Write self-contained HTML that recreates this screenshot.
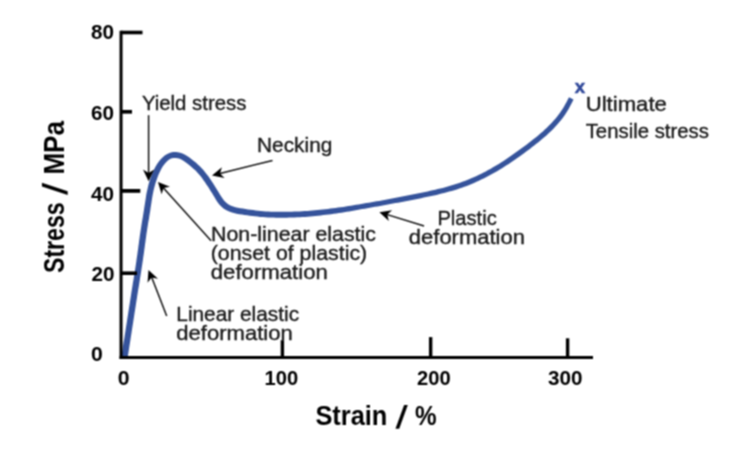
<!DOCTYPE html>
<html><head><meta charset="utf-8">
<style>
html,body{margin:0;padding:0;background:#fff;}
body{width:740px;height:463px;overflow:hidden;}
svg{display:block;}
text{font-family:"Liberation Sans",sans-serif;}
.b{font-weight:bold;fill:#000;}
.a{fill:#1a1a1a;font-size:19.9px;stroke:#1a1a1a;stroke-width:0.35;}
.ar{stroke:#111;stroke-width:1.5;fill:none;}
.ah{fill:#000;stroke:none;}
</style></head><body>
<svg width="740" height="463" viewBox="0 0 740 463">
<g filter="url(#bl)">
<rect width="740" height="463" fill="#fff"/>
<!-- curve -->
<path id="curve" d="M127.2 360.5 L127.6 357.9 L128.0 355.3 L128.4 352.7 L128.8 350.2 L129.2 347.6 L129.6 345.0 L130.0 342.5 L130.4 339.9 L130.8 337.3 L131.2 334.8 L131.6 332.2 L132.0 329.6 L132.4 327.0 L132.8 324.5 L133.2 321.9 L133.6 319.3 L134.0 316.7 L134.4 314.1 L134.8 311.6 L135.2 309.0 L135.6 306.4 L136.0 303.8 L136.4 301.3 L136.8 298.7 L137.2 296.1 L137.6 293.6 L138.0 291.0 L138.4 288.4 L138.9 285.8 L139.3 283.3 L139.7 280.7 L140.1 278.1 L140.5 275.6 L140.9 273.0 L141.3 270.4 L141.7 267.8 L142.1 265.2 L142.5 262.6 L142.9 260.1 L143.2 257.5 L143.6 254.9 L144.0 252.3 L144.3 249.7 L144.7 247.1 L145.0 244.6 L145.4 242.0 L145.7 239.4 L146.1 236.8 L146.4 234.2 L146.8 231.7 L147.2 229.1 L147.6 226.6 L148.0 224.0 L148.4 221.5 L148.9 218.9 L149.3 216.3 L149.7 213.7 L150.2 211.1 L150.5 208.5 L150.9 206.0 L151.3 203.4 L151.7 200.8 L152.1 198.3 L152.5 195.8 L153.0 193.3 L153.5 190.8 L154.1 188.3 L154.7 185.9 L155.4 183.4 L156.2 181.0 L157.0 178.7 L157.9 176.3 L158.8 174.0 L159.9 171.7 L161.0 169.5 L162.2 167.3 L163.6 165.3 L165.0 163.4 L166.6 161.7 L168.2 160.2 L170.0 159.1 L171.8 158.3 L173.7 157.9 L175.7 157.9 L177.7 158.2 L179.8 158.8 L181.8 159.8 L183.8 161.0 L185.9 162.4 L187.9 164.0 L189.8 165.6 L191.8 167.3 L193.7 168.9 L195.6 170.6 L197.3 172.4 L198.9 174.2 L200.5 176.1 L202.0 178.1 L203.5 180.2 L205.0 182.3 L206.4 184.4 L207.9 186.5 L209.3 188.7 L210.6 190.9 L212.0 193.1 L213.3 195.3 L214.7 197.6 L216.1 199.9 L217.6 202.2 L219.3 204.4 L221.3 206.5 L223.5 208.4 L226.0 210.0 L228.6 211.3 L231.2 212.3 L233.9 213.1 L236.6 213.7 L239.3 214.2 L242.0 214.6 L244.6 214.9 L247.2 215.3 L249.8 215.7 L252.4 216.0 L255.0 216.3 L257.6 216.6 L260.2 216.9 L262.9 217.1 L265.5 217.3 L268.1 217.4 L270.8 217.5 L273.4 217.6 L276.1 217.7 L278.7 217.7 L281.3 217.7 L284.0 217.7 L286.6 217.7 L289.3 217.6 L291.9 217.5 L294.5 217.4 L297.2 217.3 L299.8 217.2 L302.4 217.0 L305.1 216.9 L307.7 216.7 L310.3 216.5 L312.9 216.2 L315.5 216.0 L318.1 215.7 L320.7 215.4 L323.3 215.1 L325.9 214.8 L328.5 214.5 L331.1 214.2 L333.7 213.8 L336.3 213.4 L338.9 213.1 L341.5 212.7 L344.1 212.2 L346.7 211.8 L349.2 211.4 L351.8 211.0 L354.4 210.5 L357.0 210.0 L359.5 209.6 L362.1 209.1 L364.7 208.7 L367.2 208.2 L369.8 207.7 L372.4 207.3 L374.9 206.8 L377.5 206.4 L380.1 205.9 L382.6 205.5 L385.2 205.0 L387.8 204.5 L390.3 204.1 L392.9 203.6 L395.5 203.1 L398.0 202.7 L400.6 202.2 L403.2 201.7 L405.7 201.2 L408.3 200.7 L410.9 200.2 L413.4 199.7 L416.0 199.2 L418.6 198.7 L421.1 198.2 L423.7 197.6 L426.2 197.1 L428.8 196.6 L431.4 196.0 L433.9 195.4 L436.5 194.9 L439.0 194.3 L441.6 193.6 L444.1 193.0 L446.7 192.3 L449.2 191.6 L451.7 190.9 L454.3 190.2 L456.8 189.4 L459.3 188.5 L461.8 187.7 L464.3 186.8 L466.7 185.9 L469.2 184.9 L471.6 183.9 L474.0 182.9 L476.5 181.8 L478.9 180.7 L481.2 179.6 L483.6 178.4 L486.0 177.3 L488.3 176.0 L490.6 174.8 L492.9 173.5 L495.2 172.2 L497.5 170.9 L499.8 169.6 L502.0 168.2 L504.2 166.8 L506.5 165.3 L508.7 163.9 L510.8 162.4 L513.0 161.0 L515.2 159.5 L517.3 158.0 L519.5 156.5 L521.6 154.9 L523.7 153.4 L525.9 151.8 L528.0 150.2 L530.1 148.7 L532.1 147.1 L534.2 145.5 L536.3 143.8 L538.4 142.2 L540.4 140.5 L542.4 138.8 L544.5 137.1 L546.4 135.4 L548.4 133.6 L550.3 131.8 L552.2 130.0 L554.1 128.1 L555.9 126.1 L557.7 124.1 L559.4 122.1 L561.1 120.0 L562.7 117.9 L564.3 115.7 L565.8 113.5 L567.2 111.2 L568.6 108.9 L569.9 106.6 L571.1 104.3 L572.3 101.9 L573.5 99.6 L569.0 97.3 L567.8 99.6 L566.6 101.9 L565.4 104.1 L564.2 106.3 L562.9 108.5 L561.5 110.6 L560.0 112.7 L558.5 114.8 L557.0 116.8 L555.4 118.7 L553.7 120.6 L552.0 122.5 L550.3 124.3 L548.5 126.1 L546.6 127.9 L544.8 129.6 L542.9 131.4 L540.9 133.0 L539.0 134.7 L537.0 136.4 L535.0 138.0 L533.0 139.6 L530.9 141.2 L528.9 142.8 L526.8 144.4 L524.7 145.9 L522.6 147.5 L520.5 149.0 L518.4 150.5 L516.3 152.1 L514.2 153.6 L512.1 155.1 L510.0 156.5 L507.8 158.0 L505.7 159.4 L503.5 160.9 L501.4 162.3 L499.2 163.7 L497.0 165.0 L494.8 166.3 L492.6 167.6 L490.4 168.9 L488.1 170.1 L485.8 171.4 L483.6 172.5 L481.3 173.7 L479.0 174.8 L476.6 175.9 L474.3 177.0 L471.9 178.0 L469.6 179.0 L467.2 180.0 L464.8 180.9 L462.4 181.8 L460.0 182.7 L457.6 183.5 L455.1 184.3 L452.7 185.1 L450.2 185.8 L447.8 186.5 L445.3 187.2 L442.8 187.9 L440.3 188.5 L437.8 189.1 L435.3 189.7 L432.7 190.3 L430.2 190.8 L427.7 191.4 L425.1 191.9 L422.6 192.5 L420.1 193.0 L417.5 193.5 L415.0 194.1 L412.4 194.6 L409.9 195.1 L407.3 195.6 L404.8 196.1 L402.2 196.6 L399.6 197.1 L397.1 197.6 L394.5 198.1 L392.0 198.5 L389.4 199.0 L386.9 199.5 L384.3 199.9 L381.7 200.4 L379.2 200.9 L376.6 201.3 L374.0 201.8 L371.5 202.2 L368.9 202.7 L366.3 203.1 L363.8 203.6 L361.2 204.0 L358.6 204.4 L356.1 204.8 L353.5 205.3 L350.9 205.7 L348.4 206.1 L345.8 206.5 L343.3 206.9 L340.7 207.2 L338.1 207.6 L335.6 207.9 L333.0 208.3 L330.4 208.6 L327.9 208.9 L325.3 209.2 L322.7 209.5 L320.1 209.8 L317.6 210.0 L315.0 210.3 L312.4 210.5 L309.8 210.7 L307.2 210.9 L304.7 211.1 L302.1 211.2 L299.5 211.4 L296.9 211.5 L294.3 211.6 L291.7 211.7 L289.1 211.7 L286.5 211.8 L283.9 211.8 L281.3 211.8 L278.7 211.8 L276.2 211.8 L273.6 211.7 L271.0 211.7 L268.4 211.5 L265.9 211.4 L263.3 211.2 L260.8 211.0 L258.3 210.7 L255.7 210.4 L253.2 210.1 L250.6 209.7 L248.0 209.4 L245.4 209.0 L242.9 208.6 L240.3 208.3 L237.8 207.8 L235.4 207.3 L233.2 206.6 L231.0 205.7 L229.0 204.7 L227.2 203.5 L225.5 202.1 L224.0 200.5 L222.6 198.6 L221.2 196.6 L219.9 194.4 L218.6 192.2 L217.2 189.9 L215.8 187.7 L214.4 185.4 L213.0 183.2 L211.5 181.0 L210.0 178.8 L208.5 176.6 L206.9 174.5 L205.3 172.4 L203.6 170.3 L201.7 168.2 L199.8 166.3 L197.8 164.4 L195.8 162.6 L193.7 160.9 L191.6 159.2 L189.4 157.6 L187.1 156.0 L184.6 154.5 L181.9 153.3 L179.1 152.4 L176.1 152.0 L173.0 152.0 L170.1 152.7 L167.3 153.9 L164.7 155.5 L162.5 157.4 L160.5 159.5 L158.7 161.7 L157.1 164.1 L155.6 166.5 L154.3 169.0 L153.1 171.5 L152.0 174.0 L151.1 176.5 L150.2 179.0 L149.4 181.6 L148.6 184.2 L148.0 186.8 L147.4 189.4 L146.8 192.0 L146.3 194.6 L145.9 197.3 L145.5 199.9 L145.1 202.5 L144.7 205.0 L144.3 207.6 L143.9 210.2 L143.5 212.7 L143.1 215.3 L142.7 217.8 L142.2 220.4 L141.8 223.0 L141.4 225.6 L141.0 228.2 L140.6 230.8 L140.2 233.4 L139.8 236.0 L139.5 238.5 L139.1 241.1 L138.8 243.7 L138.4 246.3 L138.1 248.9 L137.7 251.4 L137.4 254.0 L137.0 256.6 L136.6 259.2 L136.3 261.7 L135.9 264.3 L135.5 266.9 L135.1 269.4 L134.7 272.0 L134.3 274.6 L133.9 277.1 L133.5 279.7 L133.0 282.3 L132.6 284.9 L132.2 287.4 L131.8 290.0 L131.4 292.6 L131.0 295.2 L130.6 297.7 L130.2 300.3 L129.8 302.9 L129.4 305.5 L129.0 308.0 L128.6 310.6 L128.2 313.2 L127.8 315.8 L127.4 318.3 L127.0 320.9 L126.6 323.5 L126.2 326.0 L125.8 328.6 L125.4 331.2 L125.0 333.8 L124.6 336.3 L124.2 338.9 L123.7 341.5 L123.3 344.1 L122.9 346.6 L122.5 349.2 L122.1 351.8 L121.8 354.4 L121.4 357.0 L121.0 359.5Z" fill="#35539b" clip-path="url(#cc)"/>
<!-- axes -->
<g stroke="#000" stroke-width="3.4" fill="none" stroke-linecap="butt">
<path d="M121.05 30.8 V358.9" stroke-width="3"/>
<path d="M119.55 357.5 H593" stroke-width="2.8"/>
<path d="M121 32.5 H142.5" stroke-width="3.6"/>
<path d="M121 111.8 H132" stroke-width="3.7"/>
<path d="M121 190.9 H140.3" stroke-width="3.8"/>
<path d="M121 273.2 H137" stroke-width="3.6"/>
<path d="M282.4 340.2 V358"/>
<path d="M430.65 337.1 V358"/>
<path d="M567.6 338.3 V358"/>
</g>
<!-- tick labels -->
<g class="b" font-size="19.9" text-anchor="middle">
<text x="102.4" y="39.2" textLength="23" lengthAdjust="spacingAndGlyphs">80</text>
<text x="102.4" y="119.5" textLength="23" lengthAdjust="spacingAndGlyphs">60</text>
<text x="102.4" y="200.7" textLength="23" lengthAdjust="spacingAndGlyphs">40</text>
<text x="103.1" y="280.6" textLength="23" lengthAdjust="spacingAndGlyphs">20</text>
<text x="97" y="361.3" textLength="11.8" lengthAdjust="spacingAndGlyphs">0</text>
<text x="123.6" y="384.9" textLength="11.8" lengthAdjust="spacingAndGlyphs">0</text>
<text x="281.4" y="384.9" textLength="33.6" lengthAdjust="spacingAndGlyphs">100</text>
<text x="433.8" y="384.9" textLength="33.6" lengthAdjust="spacingAndGlyphs">200</text>
<text x="565.2" y="384.9" textLength="34.5" lengthAdjust="spacingAndGlyphs">300</text>
</g>
<g class="b" font-size="26.9">
<text x="315.4" y="425.4" textLength="72" lengthAdjust="spacingAndGlyphs">Strain</text>
<text transform="translate(395.2 428) skewX(-10)" font-size="31.7">/</text>
<text x="415" y="425.4" textLength="21.6" lengthAdjust="spacingAndGlyphs">%</text>
</g>
<g class="b" font-size="26.9" transform="translate(64.3 0) rotate(-90) scale(1 1.09)">
<text x="-273" y="0" textLength="70.6" lengthAdjust="spacingAndGlyphs">Stress</text>
<text transform="translate(-195.2 2.7) skewX(-10)" font-size="31.7">/</text>
<text x="-174.6" y="0" textLength="53.6" lengthAdjust="spacingAndGlyphs">MPa</text>
</g>
<!-- annotations -->
<g class="a">
<text x="141.9" y="109.8" textLength="104.5" lengthAdjust="spacingAndGlyphs">Yield stress</text>
<text x="257.1" y="152.1" textLength="75.2" lengthAdjust="spacingAndGlyphs">Necking</text>
<text x="211.1" y="241.1" textLength="164.8" lengthAdjust="spacingAndGlyphs">Non-linear elastic</text>
<text x="210.7" y="260.1" textLength="156.5" lengthAdjust="spacingAndGlyphs">(onset of plastic)</text>
<text x="210.8" y="279.4" textLength="117" lengthAdjust="spacingAndGlyphs">deformation</text>
<text x="176.3" y="320.6" textLength="122.8" lengthAdjust="spacingAndGlyphs">Linear elastic</text>
<text x="176.3" y="339.5" textLength="116.4" lengthAdjust="spacingAndGlyphs">deformation</text>
<text x="437.4" y="224.5" textLength="59.4" lengthAdjust="spacingAndGlyphs">Plastic</text>
<text x="408.8" y="243.9" textLength="116.2" lengthAdjust="spacingAndGlyphs">deformation</text>
<text x="585.7" y="111.0" textLength="81.2" lengthAdjust="spacingAndGlyphs">Ultimate</text>
<text x="585.7" y="138.0" textLength="123.2" lengthAdjust="spacingAndGlyphs">Tensile stress</text>
</g>
<text x="574.7" y="93.2" font-size="17.5" font-weight="bold" fill="#31499a" stroke="#31499a" stroke-width="0.5" textLength="10.4" lengthAdjust="spacingAndGlyphs">x</text>
<!-- arrows -->
<defs>
<filter id="bl" x="0" y="0" width="740" height="463" filterUnits="userSpaceOnUse" color-interpolation-filters="sRGB"><feConvolveMatrix order="3" kernelMatrix="1 2 1 2 4 2 1 2 1" divisor="16" edgeMode="duplicate" preserveAlpha="true"/></filter>
<clipPath id="cc"><rect x="0" y="0" width="740" height="358.7"/></clipPath>
</defs>
<g class="ar">
<path d="M148.6 115.2 V176"/>
<path d="M272.5 160.5 L217 174.2"/>
<path d="M211.1 240.7 L161.2 185.4"/>
<path d="M166.7 315.9 L150.8 275"/>
<path d="M424.1 226 L384 213.6"/>
</g>
<g class="ah">
<path d="M0 0 L-11.6 -5.6 L-8.2 0 L-11.6 5.6 Z" transform="translate(148.6 181.2) rotate(90)"/>
<path d="M0 0 L-11.6 -5.6 L-8.2 0 L-11.6 5.6 Z" transform="translate(212 175.4) rotate(166.1)"/>
<path d="M0 0 L-11.6 -5.6 L-8.2 0 L-11.6 5.6 Z" transform="translate(158.0 181.9) rotate(227.9)"/>
<path d="M0 0 L-11.6 -5.6 L-8.2 0 L-11.6 5.6 Z" transform="translate(148.5 270) rotate(248.4)"/>
<path d="M0 0 L-11.6 -5.6 L-8.2 0 L-11.6 5.6 Z" transform="translate(379.4 212.2) rotate(197.2)"/>
</g>
</g>
</svg>
</body></html>
